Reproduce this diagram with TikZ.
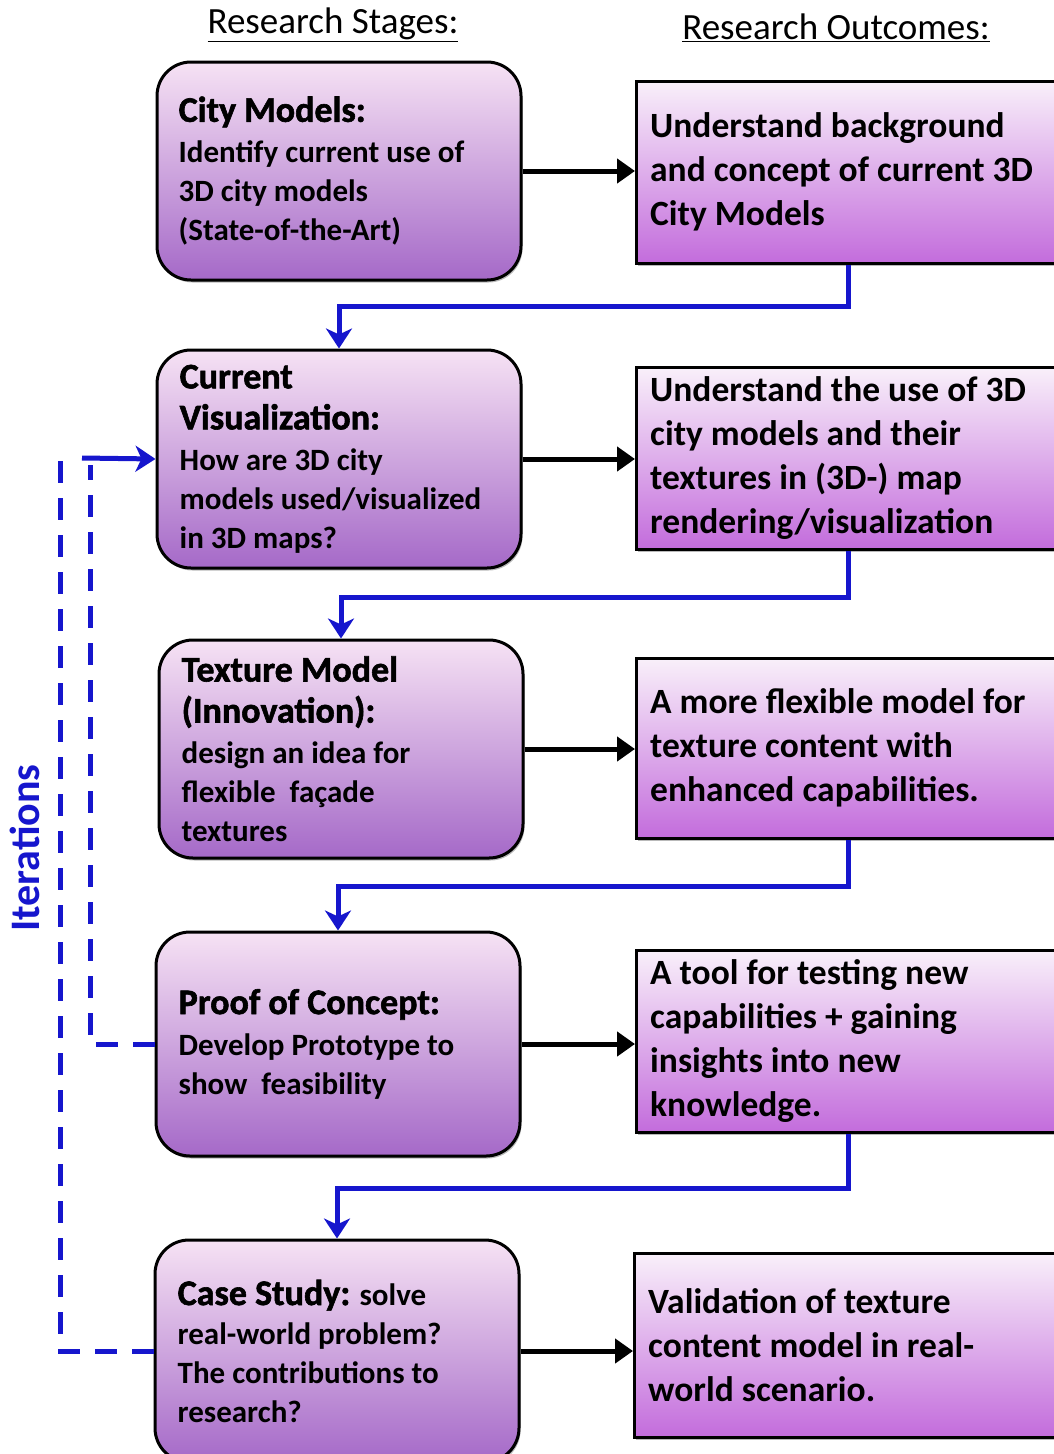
\documentclass[tikz,border=0pt]{standalone}
\usepackage{fontspec}
\setmainfont{Carlito}
\newfontfamily\heavyfont{Carlito}[BoldFeatures={FakeBold=1.6}]
\usetikzlibrary{arrows.meta,shadows}

\definecolor{flowblue}{RGB}{22,22,205}
\definecolor{stagetop}{RGB}{246,226,244}
\definecolor{stagebot}{RGB}{165,105,200}
\definecolor{outtop}{RGB}{249,240,250}
\definecolor{outbot}{RGB}{195,108,220}

\newcommand\headfont{\heavyfont\bfseries\fontsize{36}{44}\selectfont}

\tikzset{
  stagebox/.style={draw=black, line width=3pt, rounded corners=34pt,
    top color=stagetop, bottom color=stagebot, minimum width=364pt,
    drop shadow={shadow xshift=1.5pt, shadow yshift=-2.5pt, opacity=0.55}},
  stagetext/.style={anchor=west, inner sep=0pt, align=left,
    font=\bfseries\fontsize{31}{39}\selectfont},
  outbox/.style={draw=black, line width=3pt, anchor=west,
    top color=outtop, bottom color=outbot, minimum width=440pt,
    drop shadow={shadow xshift=1.5pt, shadow yshift=-2.5pt, opacity=0.55}},
  outtext/.style={anchor=west, inner sep=0pt, align=left,
    font=\bfseries\fontsize{35.5}{44}\selectfont},
  blackarrow/.style={line width=5pt, -{Triangle[length=18pt,width=24pt]}},
  blueflow/.style={draw=flowblue, line width=5pt,
    -{Stealth[length=20pt,width=26pt,inset=6pt]}},
  iterline/.style={draw=flowblue, line width=5pt, dash pattern=on 22pt off 15pt},
  headline/.style={font=\fontsize{37}{42}\selectfont}
}

\begin{document}
\begin{tikzpicture}[x=1pt, y=-1pt]
  \useasboundingbox (0,0) rectangle (1054,1454);

  % column titles
  \node[headline] (hstages) at (333,25) {\underline{Research Stages:}};
  \node[headline] (houtcomes) at (836,28) {\underline{Research Outcomes:}};

  % research stages: boxes
  \node[stagebox, minimum height=218pt] (l1) at (339,171) {};
  \node[stagebox, minimum height=218pt] (l2) at (339,459) {};
  \node[stagebox, minimum height=218pt] (l3) at (341,749) {};
  \node[stagebox, minimum height=224pt] (l4) at (338,1044) {};
  \node[stagebox, minimum height=222pt] (l5) at (337,1351) {};

  % research stages: texts
  \node[stagetext] (t1) at ([xshift=23pt]l1.west) {%
    {\headfont City Models:}\\[2pt]
    Identify current use of\\3D city models\\(State-of-the-Art)};
  \node[stagetext] (t2) at ([xshift=24pt]l2.west) {%
    {\headfont Current}\\[2pt]{\headfont Visualization:}\\[2pt]
    How are 3D city\\models used/visualized\\in 3D maps?};
  \node[stagetext] (t3) at ([xshift=24pt]l3.west) {%
    {\headfont Texture Model}\\[2pt]{\headfont (Innovation):}\\[2pt]
    design an idea for\\flexible\ \ façade\\textures};
  \node[stagetext] (t4) at ([xshift=24pt]l4.west) {%
    {\headfont Proof of Concept:}\\[2pt]
    Develop Prototype to\\show\ \ feasibility};
  \node[stagetext] (t5) at ([xshift=24pt]l5.west) {%
    {\headfont Case Study:} solve\\real-world problem?\\The contributions to\\research?};

  % research outcomes: boxes
  \node[outbox, minimum height=182pt] (r1) at (635,172) {};
  \node[outbox, minimum height=182pt] (r2) at (635,458) {};
  \node[outbox, minimum height=180pt] (r3) at (635,748) {};
  \node[outbox, minimum height=182pt] (r4) at (635,1041) {};
  \node[outbox, minimum height=184pt] (r5) at (633,1345) {};

  % research outcomes: texts
  \node[outtext] (u1) at ([xshift=15pt]r1.west) {%
    Understand background\\and concept of current 3D\\City Models};
  \node[outtext] (u2) at ([xshift=15pt]r2.west) {%
    Understand the use of 3D\\city models and their\\textures in (3D-) map\\rendering/visualization};
  \node[outtext] (u3) at ([xshift=15pt]r3.west) {%
    A more flexible model for\\texture content with\\enhanced capabilities.};
  \node[outtext] (u4) at ([xshift=15pt]r4.west) {%
    A tool for testing new\\capabilities + gaining\\insights into new\\knowledge.};
  \node[outtext] (u5) at ([xshift=15pt]r5.west) {%
    Validation of texture\\content model in real-\\world scenario.};

  % stage -> outcome
  \foreach \i in {1,...,5}
    \draw[blackarrow] (l\i.east) -- (l\i.east -| r\i.west);

  % outcome -> next stage
  \coordinate (jx) at (848,0);
  \draw[blueflow] (r1.south -| jx) -- ++(0,42) -| (l2.north);
  \draw[blueflow] (r2.south -| jx) -- ++(0,47) -| (l3.north);
  \draw[blueflow] (r3.south -| jx) -- ++(0,47) -| (l4.north);
  \draw[blueflow] (r4.south -| jx) -- ++(0,55) -| (l5.north);

  % iteration loops
  \coordinate (outerend) at (60,453);
  \coordinate (innerend) at (90,465);
  \coordinate (itop) at (82,458);
  \draw[iterline] (l5.west) -| (outerend);
  \draw[iterline] (l4.west) -| (innerend);
  \draw[blueflow] (itop) -- (l2.west);
  \node[rotate=90, text=flowblue, font=\bfseries\fontsize{42}{48}\selectfont]
    (iter) at (25,848) {Iterations};
\end{tikzpicture}
\end{document}
